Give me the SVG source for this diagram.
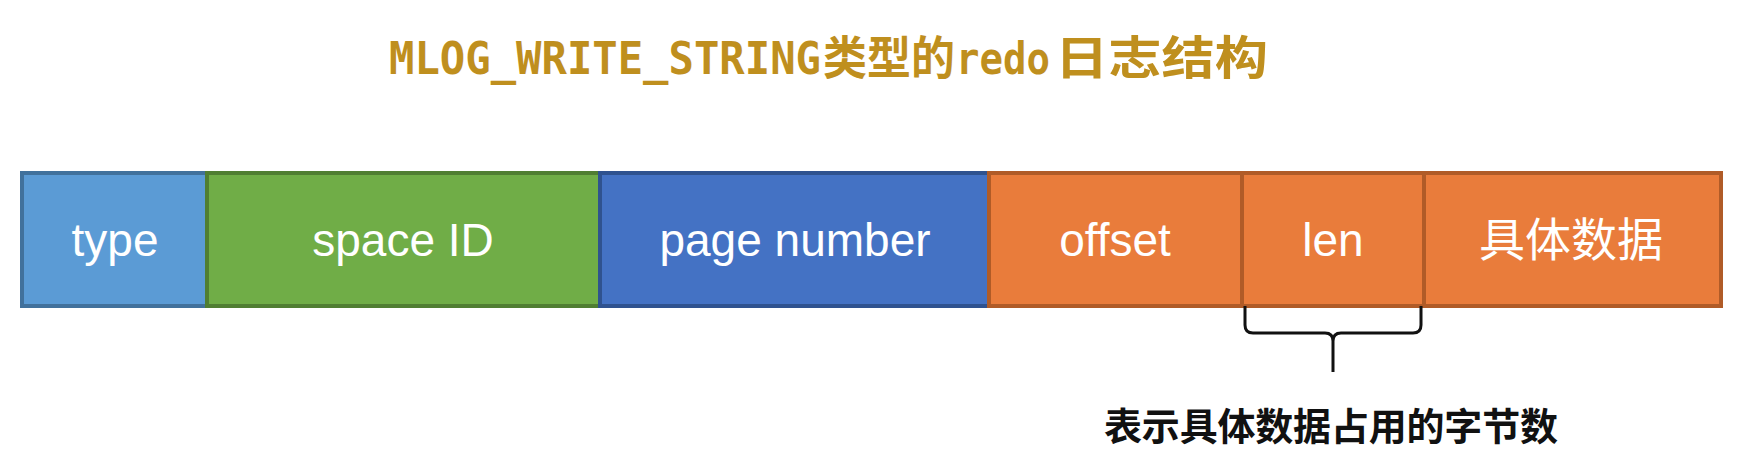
<svg xmlns="http://www.w3.org/2000/svg" width="1758" height="473" viewBox="0 0 1758 473">
<style>
.title-lat{font-family:"DejaVu Sans Mono","Liberation Mono",monospace;font-weight:bold;font-size:44px;fill:#BF8F1E}
.title-cjk{font-family:"Noto Sans CJK SC",sans-serif;font-weight:bold;font-size:46px;fill:#BF8F1E}
.lbl{font-family:"Liberation Sans","Noto Sans CJK SC",sans-serif;font-size:46px;fill:#FFFFFF;text-anchor:middle}
.cjklbl{font-family:"Noto Sans CJK SC",sans-serif;font-size:46px;fill:#FFFFFF;text-anchor:middle}
.box{stroke-width:4}
.blue1{fill:#5B9BD5;stroke:#41719C}
.green{fill:#70AD47;stroke:#507E32}
.blue2{fill:#4472C4;stroke:#2F528F}
.orange{fill:#E97C3B;stroke:#B05B27}
.note{font-family:"Noto Sans CJK SC",sans-serif;font-weight:bold;font-size:38px;fill:#111111}
</style>
<rect width="1758" height="473" fill="#FFFFFF"/>
<g id="title">
<text class="title-lat" x="389" y="74" textLength="432" lengthAdjust="spacingAndGlyphs">MLOG_WRITE_STRING</text>
<text class="title-cjk" x="823" y="74" textLength="132" lengthAdjust="spacingAndGlyphs">类型的</text>
<text class="title-lat" x="956" y="74" textLength="94" lengthAdjust="spacingAndGlyphs">redo</text>
<text class="title-cjk" x="1055" y="74" textLength="213" lengthAdjust="spacingAndGlyphs">日志结构</text>
</g>
<g id="type"><rect class="box blue1" x="22" y="173" width="185" height="133"/><text class="lbl" x="115" y="256">type</text></g>
<g id="space-id"><rect class="box green" x="207" y="173" width="393" height="133"/><text class="lbl" x="403" y="256">space ID</text></g>
<g id="page-number"><rect class="box blue2" x="600" y="173" width="389" height="133"/><text class="lbl" x="795" y="256">page number</text></g>
<g id="offset"><rect class="box orange" x="989" y="173" width="253" height="133"/><text class="lbl" x="1115" y="256">offset</text></g>
<g id="len"><rect class="box orange" x="1242" y="173" width="182" height="133"/><text class="lbl" x="1333" y="256">len</text></g>
<g id="data"><rect class="box orange" x="1424" y="173" width="297" height="133"/><text class="cjklbl" x="1571" y="256">具体数据</text></g>
<g id="connectors">
<path d="M1245,306 V325 Q1245,333 1253,333 H1325 Q1333,333 1333,341 V372 M1333,341 Q1333,333 1341,333 H1413 Q1421,333 1421,325 V306" fill="none" stroke="#111111" stroke-width="3"/>
</g>
<g id="note"><text class="note" x="1104" y="440" textLength="454" lengthAdjust="spacing">表示具体数据占用的字节数</text></g>
</svg>
